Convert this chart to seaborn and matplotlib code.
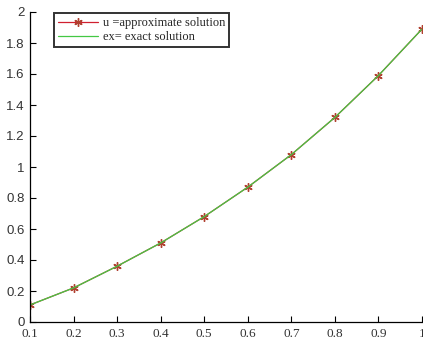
import seaborn as sns
import pandas as pd
from matplotlib import pyplot as plt

x = [0.1, 0.2, 0.3, 0.4, 0.5, 0.6, 0.7, 0.8, 0.9, 1.0]
u = [0.11, 0.22, 0.36, 0.51, 0.68, 0.87, 1.08, 1.32, 1.59, 1.89]
ex = [0.11, 0.22, 0.36, 0.51, 0.68, 0.87, 1.08, 1.32, 1.59, 1.89]
xticks = [0.1, 0.2, 0.3, 0.4, 0.5, 0.6, 0.7, 0.8, 0.9, 1.0]
xlabels = ['0.1', '0.2', '0.3', '0.4', '0.5', '0.6', '0.7', '0.8', '0.9', '1']
yticks = [0, 0.2, 0.4, 0.6, 0.8, 1.0, 1.2, 1.4, 1.6, 1.8, 2.0]
ylabels = ['0', '0.2', '0.4', '0.6', '0.8', '1', '1.2', '1.4', '1.6', '1.8', '2']

df = pd.DataFrame({'x': x, 'u': u, 'ex': ex})

sns.set_style('white')
plt.rcParams['font.family'] = ['Liberation Sans', 'DejaVu Sans']

fig = plt.figure(figsize=(4.23, 3.4), dpi=100)
ax = fig.add_axes([30 / 423, 18 / 340, 392 / 423, 310 / 340])

# MATLAB-style thin asterisk marker
star = (6, 2, 0)
sns.lineplot(data=df, x='x', y='u', ax=ax, color='#d02030', linewidth=0.9,
             marker=star, markersize=6, markeredgewidth=1.0,
             markeredgecolor='#b04030', label='u =approximate solution')
sns.lineplot(data=df, x='x', y='ex', ax=ax, color='#44c844', linewidth=0.9,
             label='ex= exact solution')

ax.set_xlim(0.1, 1.0)
ax.set_ylim(0, 2)
ax.set_xticks(xticks)
ax.set_xticklabels(xlabels, family='Liberation Serif', fontsize=9.5)
ax.set_yticks(yticks)
ax.set_yticklabels(ylabels, fontsize=9.5)
ax.tick_params(bottom=True, left=True, direction='in', length=4, width=0.8,
               colors='black', pad=4)
for lbl in ax.get_yticklabels() + ax.get_xticklabels():
    lbl.set_color('#333333')
ax.set_xlabel('')
ax.set_ylabel('')

sns.despine(ax=ax, top=True, right=True)
for s in ['left', 'bottom']:
    ax.spines[s].set_color('black')
    ax.spines[s].set_linewidth(0.9)

leg = ax.legend(loc='upper left', bbox_to_anchor=(0.058, 1.0), frameon=True,
                fancybox=False, shadow=False, prop={'family': 'Liberation Serif', 'size': 9},
                handlelength=3.2, borderpad=0.3, labelspacing=0.15, handletextpad=0.4,
                borderaxespad=0.1)
leg.get_frame().set_edgecolor('black')
leg.get_frame().set_linewidth(1.4)

fig.savefig('out.png', dpi=100)
